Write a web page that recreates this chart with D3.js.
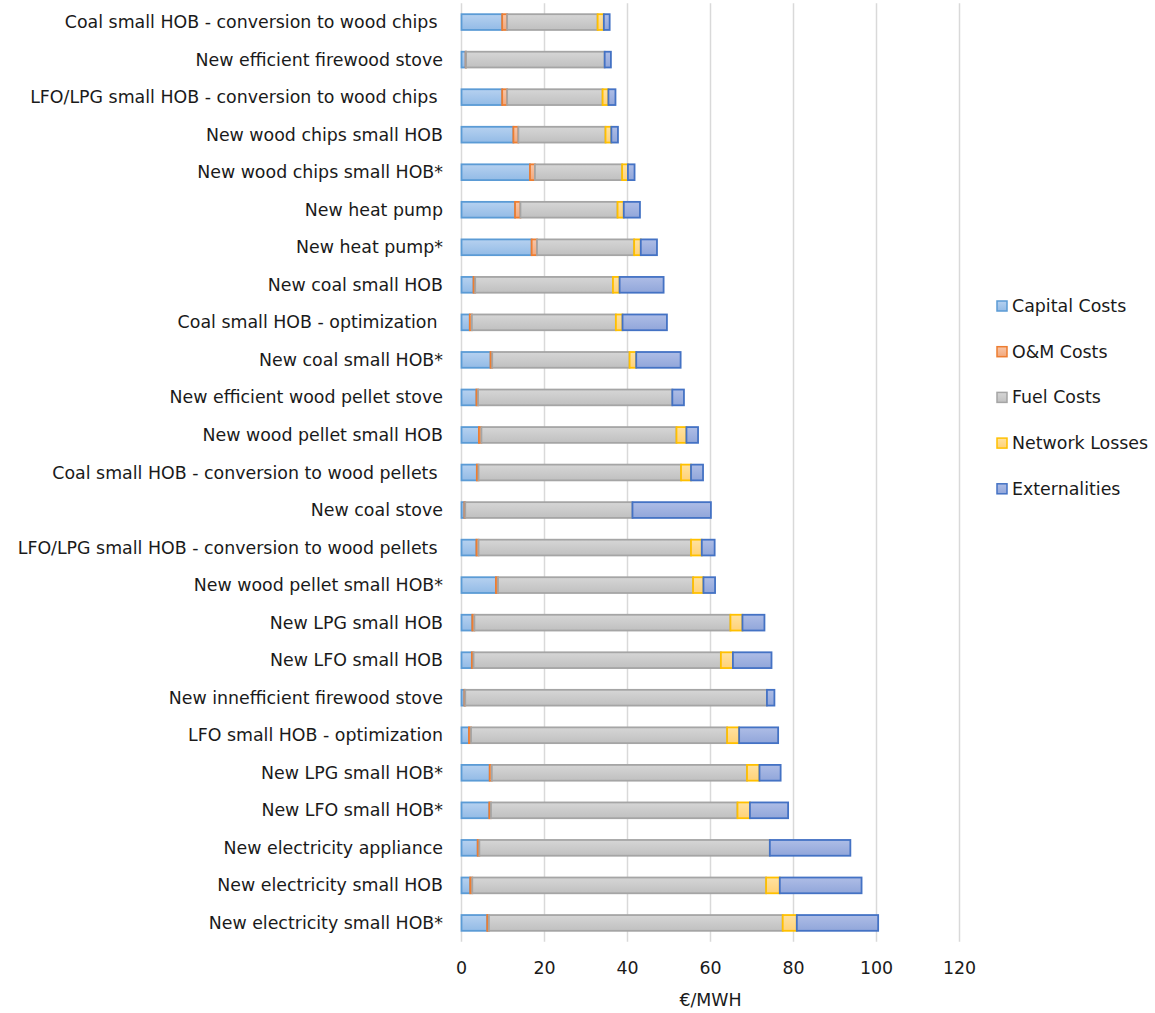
<!DOCTYPE html>
<html>
<head>
<meta charset="utf-8">
<script src="https://cdn.jsdelivr.net/npm/d3@7"></script>
<style>
  html, body { margin: 0; padding: 0; background: #ffffff; }
  svg { display: block; font-family: "DejaVu Sans", Verdana, sans-serif; }
  text { white-space: pre; }
</style>
</head>
<body>
<svg id="chart" width="1155" height="1013"></svg>
<script>
// Technology options, top to bottom
const categories = [
  "Coal small HOB - conversion to wood chips ",
  "New efficient firewood stove",
  "LFO/LPG small HOB - conversion to wood chips ",
  "New wood chips small HOB",
  "New wood chips small HOB*",
  "New heat pump",
  "New heat pump*",
  "New coal small HOB",
  "Coal small HOB - optimization ",
  "New coal small HOB*",
  "New efficient wood pellet stove",
  "New wood pellet small HOB",
  "Coal small HOB - conversion to wood pellets ",
  "New coal stove",
  "LFO/LPG small HOB - conversion to wood pellets ",
  "New wood pellet small HOB*",
  "New LPG small HOB",
  "New LFO small HOB",
  "New innefficient firewood stove",
  "LFO small HOB - optimization",
  "New LPG small HOB*",
  "New LFO small HOB*",
  "New electricity appliance",
  "New electricity small HOB",
  "New electricity small HOB*"
];

// Cost components, €/MWh
const capitalCosts    = [9.8, 1.0, 9.8, 12.5, 16.5, 12.9, 16.9, 2.9, 2.0, 7.0, 3.6, 4.2, 3.7, 0.7, 3.6, 8.3, 2.6, 2.5, 0.7, 1.8, 6.8, 6.7, 3.9, 2.1, 6.2];
const omCosts         = [1.2, 0.1, 1.2, 1.2, 1.2, 1.3, 1.3, 0.4, 0.5, 0.4, 0.4, 0.6, 0.4, 0.2, 0.5, 0.5, 0.5, 0.4, 0.2, 0.5, 0.5, 0.4, 0.4, 0.5, 0.4];
const fuelCosts       = [21.8, 33.4, 23.0, 21.0, 21.0, 23.4, 23.4, 33.2, 34.7, 33.1, 46.8, 47.0, 48.8, 40.3, 51.2, 47.0, 61.7, 59.6, 72.7, 61.7, 61.5, 59.4, 70.0, 70.8, 70.8];
const networkLosses   = [1.5, 0.0, 1.4, 1.4, 1.4, 1.5, 1.6, 1.6, 1.6, 1.6, 0.0, 2.4, 2.4, 0.0, 2.6, 2.5, 2.9, 2.9, 0.0, 2.9, 3.0, 3.0, 0.0, 3.3, 3.4];
const externalities   = [1.4, 1.5, 1.7, 1.6, 1.6, 3.9, 3.9, 10.6, 10.7, 10.7, 2.8, 2.8, 2.9, 18.9, 3.1, 2.8, 5.3, 9.3, 1.8, 9.4, 5.1, 9.2, 19.4, 19.7, 19.6];

const seriesNames = ["Capital Costs", "O&M Costs", "Fuel Costs", "Network Losses", "Externalities"];
const xTicks = [0, 20, 40, 60, 80, 100, 120];

// Component styling: outline colour plus a soft vertical gradient fill
const styles = [
  { stroke: "#5b9bd5", top: "#b6d1f0", bottom: "#93bbe6" },
  { stroke: "#ed7d31", top: "#f8c6a8", bottom: "#f2a87c" },
  { stroke: "#a5a5a5", top: "#d6d6d6", bottom: "#c0c0c0" },
  { stroke: "#ffc000", top: "#ffe2a0", bottom: "#ffd278" },
  { stroke: "#4472c4", top: "#aebde6", bottom: "#91a6da" }
];

const rows = categories.map((c, i) => ({
  category: c,
  "Capital Costs": capitalCosts[i],
  "O&M Costs": omCosts[i],
  "Fuel Costs": fuelCosts[i],
  "Network Losses": networkLosses[i],
  "Externalities": externalities[i]
}));

const FONT = 17.4;
const svg = d3.select("#chart");
const plot = { left: 461.5, right: 959.5, top: 3.3, bottom: 941.7 };

const x = d3.scaleLinear().domain([0, 120]).range([plot.left, plot.right]);
const y = d3.scaleBand().domain(categories).range([plot.top, plot.bottom]).paddingInner(0.58).paddingOuter(0.29);

// gradients
const defs = svg.append("defs");
styles.forEach((s, i) => {
  const g = defs.append("linearGradient").attr("id", "grad" + i)
    .attr("x1", 0).attr("y1", 0).attr("x2", 0).attr("y2", 1);
  g.append("stop").attr("offset", "0%").attr("stop-color", s.top);
  g.append("stop").attr("offset", "100%").attr("stop-color", s.bottom);
});

// vertical gridlines
svg.append("g").selectAll("line").data(xTicks).join("line")
  .attr("x1", d => x(d)).attr("x2", d => x(d))
  .attr("y1", plot.top).attr("y2", plot.bottom)
  .attr("stroke", "#d9d9d9").attr("stroke-width", 1.5);

// stacked bars
const stack = d3.stack().keys(seriesNames);
const layers = stack(rows);
const barH = y.bandwidth();

svg.append("g").selectAll("g").data(layers).join("g")
  .attr("fill", (d, i) => `url(#grad${i})`)
  .attr("stroke", (d, i) => styles[i].stroke)
  .attr("stroke-width", 1.8)
  .selectAll("rect")
  .data(d => d.filter(p => p[1] - p[0] > 0))
  .join("rect")
  .attr("x", d => x(d[0]))
  .attr("width", d => Math.max(0, x(d[1]) - x(d[0])))
  .attr("y", d => y(d.data.category))
  .attr("height", barH);

// category labels
svg.append("g").attr("font-size", FONT).attr("fill", "#1a1a1a")
  .selectAll("text").data(categories).join("text")
  .attr("x", 443).attr("y", d => y(d) + barH / 2)
  .attr("text-anchor", "end").attr("dominant-baseline", "central")
  .text(d => d);

// x axis tick labels
svg.append("g").attr("font-size", FONT).attr("fill", "#1a1a1a")
  .selectAll("text").data(xTicks).join("text")
  .attr("x", d => x(d)).attr("y", 968)
  .attr("text-anchor", "middle").attr("dominant-baseline", "central")
  .text(d => d);

// axis title
svg.append("text").attr("x", (plot.left + plot.right) / 2).attr("y", 1000)
  .attr("text-anchor", "middle").attr("dominant-baseline", "central")
  .attr("font-size", FONT).attr("fill", "#1a1a1a").text("€/MWH");

// legend
const legend = svg.append("g").selectAll("g").data(seriesNames).join("g")
  .attr("transform", (d, i) => `translate(997, ${306 + i * 45.7})`);
legend.append("rect").attr("x", 0).attr("y", -5).attr("width", 10).attr("height", 10)
  .attr("fill", (d, i) => `url(#grad${i})`)
  .attr("stroke", (d, i) => styles[i].stroke).attr("stroke-width", 1.5);
legend.append("text").attr("x", 15).attr("y", 0)
  .attr("dominant-baseline", "central").attr("font-size", FONT).attr("fill", "#1a1a1a")
  .text(d => d);
</script>
</body>
</html>
